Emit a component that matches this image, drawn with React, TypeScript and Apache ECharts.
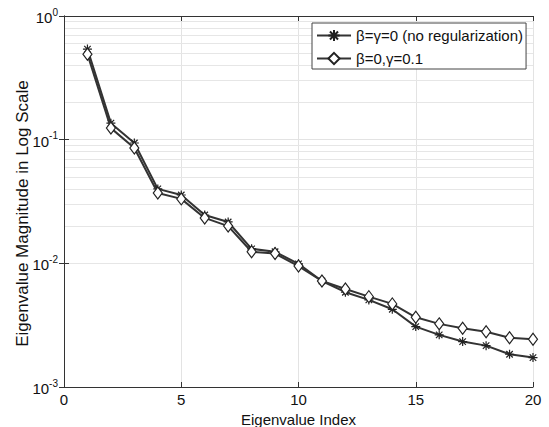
import React, { useEffect, useRef } from "react";
import * as echarts from "echarts";

const indices = [1, 2, 3, 4, 5, 6, 7, 8, 9, 10, 11, 12, 13, 14, 15, 16, 17, 18, 19, 20];
const noReg = [0.54, 0.136, 0.094, 0.040, 0.0357, 0.0246, 0.0216, 0.0131, 0.0124, 0.0099,
  0.0072, 0.00584, 0.00506, 0.00425, 0.00308, 0.00264, 0.00233, 0.00216, 0.00184, 0.00173];
const reg = [0.49, 0.124, 0.0857, 0.037, 0.0332, 0.0233, 0.020, 0.0124, 0.0120, 0.0095,
  0.0072, 0.0062, 0.00538, 0.0047, 0.00366, 0.00324, 0.00299, 0.0028, 0.0025, 0.00243];
const seriesNames = ["β=γ=0 (no regularization)", "β=0,γ=0.1"];
const minorGridValues = [
  0.002, 0.003, 0.004, 0.005, 0.006, 0.007, 0.008, 0.009,
  0.02, 0.03, 0.04, 0.05, 0.06, 0.07, 0.08, 0.09,
  0.2, 0.3, 0.4, 0.5, 0.6, 0.7, 0.8, 0.9,
];

const FONT = "Liberation Sans";
const STAR = "path://M0,-5L0,5M-5,0L5,0M-3.6,-3.6L3.6,3.6M-3.6,3.6L3.6,-3.6";

export default function App() {
  const ref = useRef<HTMLDivElement>(null);
  useEffect(() => {
    if (!ref.current) return;
    const chart = echarts.init(ref.current, null, { renderer: "svg" });
    const axisLine = { show: true, lineStyle: { color: "#333", width: 1 } };
    chart.setOption({
      animation: false,
      backgroundColor: "#fff",
      textStyle: { fontFamily: FONT },
      grid: { left: 64, right: 16, top: 16, bottom: 40, containLabel: false, outerBoundsMode: "none" },
      legend: {
        left: 312,
        top: 23,
        orient: "vertical",
        itemWidth: 34,
        itemHeight: 14,
        itemGap: 8,
        padding: [5, 3, 3, 4],
        borderColor: "#444",
        borderWidth: 1,
        backgroundColor: "#fff",
        textStyle: { fontFamily: FONT, fontSize: 15, color: "#111", lineHeight: 14 },
        data: seriesNames,
      },
      xAxis: [
        {
          type: "value",
          min: 0,
          max: 20,
          interval: 5,
          name: "Eigenvalue Index",
          nameLocation: "middle",
          nameGap: 25,
          nameMoveOverlap: false,
          nameTextStyle: { fontFamily: FONT, fontSize: 15, color: "#111" },
          axisLine,
          axisTick: { show: true, inside: true, length: 5, lineStyle: { color: "#333" } },
          axisLabel: { fontFamily: FONT, fontSize: 15, color: "#111", margin: 5 },
          splitLine: { show: true, lineStyle: { color: "#e3e3e3", width: 1 } },
        },
        {
          type: "value",
          min: 0,
          max: 20,
          interval: 5,
          position: "top",
          axisLine,
          axisTick: { show: true, inside: true, length: 5, lineStyle: { color: "#333" } },
          axisLabel: { show: false },
          splitLine: { show: false },
        },
      ],
      yAxis: [
        {
          type: "log",
          logBase: 10,
          min: 0.001,
          max: 1,
          name: "Eigenvalue Magnitude in Log Scale",
          nameLocation: "middle",
          nameGap: 33,
          nameMoveOverlap: false,
          nameTextStyle: { fontFamily: FONT, fontSize: 17, color: "#111", padding: [0, 24, 0, 0] },
          axisLine,
          axisTick: { show: true, inside: true, length: 5, lineStyle: { color: "#333" } },
          axisLabel: {
            margin: 6,
            formatter: (v: number) => `{b|10}{s|${Math.round(Math.log10(v))}}`,
            rich: {
              b: { fontFamily: FONT, fontSize: 15, color: "#111", verticalAlign: "bottom", lineHeight: 18 },
              s: { fontFamily: FONT, fontSize: 10, color: "#111", verticalAlign: "top", lineHeight: 10, padding: [0, 0, 8, 0] },
            },
          },
          splitLine: { show: true, lineStyle: { color: "#e3e3e3", width: 1 } },
        },
        {
          type: "log",
          logBase: 10,
          min: 0.001,
          max: 1,
          position: "right",
          axisLine,
          axisTick: { show: true, inside: true, length: 5, lineStyle: { color: "#333" } },
          axisLabel: { show: false },
          splitLine: { show: false },
        },
      ],
      series: [
        {
          name: seriesNames[0],
          type: "line",
          data: indices.map((x, i) => [x, noReg[i]]),
          symbol: STAR,
          symbolSize: 9,
          showAllSymbol: true,
          lineStyle: { color: "#333", width: 2 },
          itemStyle: { color: "#222", borderColor: "#222", borderWidth: 1.2 },
          z: 3,
          markLine: {
            silent: true,
            symbol: "none",
            label: { show: false },
            lineStyle: { color: "#e6e6e6", width: 1, type: "solid" },
            data: minorGridValues.map((v) => ({ yAxis: v })),
            z: 0,
          },
        },
        {
          name: seriesNames[1],
          type: "line",
          data: indices.map((x, i) => [x, reg[i]]),
          symbol: "diamond",
          symbolSize: [9, 12],
          showAllSymbol: true,
          lineStyle: { color: "#333", width: 2 },
          itemStyle: { color: "#fff", borderColor: "#222", borderWidth: 1.2 },
          z: 4,
        },
      ],
    });
    return () => chart.dispose();
  }, []);
  return <div ref={ref} style={{ width: 549, height: 427, position: "absolute", left: 0, top: 0 }} />;
}
